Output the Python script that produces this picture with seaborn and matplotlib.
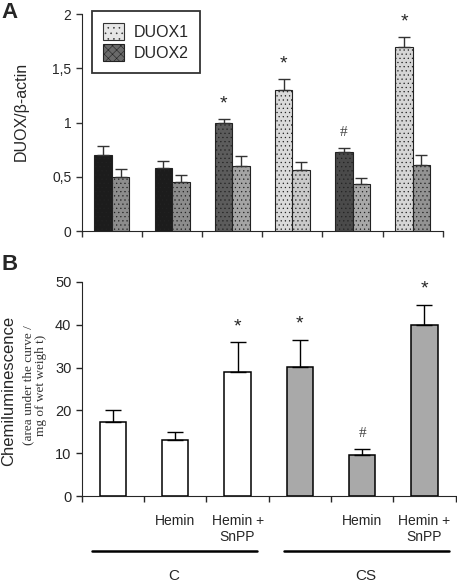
import matplotlib
matplotlib.use("Agg")
import matplotlib.pyplot as plt
import matplotlib.transforms as mtransforms
from matplotlib.patches import Patch
import numpy as np
import pandas as pd
import seaborn as sns

# panel A data
groups_a = ["1", "2", "3", "4", "5", "6"]
duox1 = [0.70, 0.58, 1.00, 1.30, 0.73, 1.70]
duox1_err = [0.08, 0.07, 0.03, 0.10, 0.04, 0.09]
duox2 = [0.50, 0.45, 0.60, 0.56, 0.43, 0.61]
duox2_err = [0.07, 0.07, 0.09, 0.08, 0.06, 0.09]
marks_a = ["", "", "*", "*", "#", "*"]  # above DUOX1 bars

# panel B data
conditions_b = ["C", "C Hemin", "C Hemin+SnPP", "CS", "CS Hemin", "CS Hemin+SnPP"]
tick_labels_b = ["", "Hemin", "Hemin +\nSnPP", "", "Hemin", "Hemin +\nSnPP"]
chemi = [17.3, 13.2, 29.0, 30.1, 9.5, 40.0]
chemi_err = [2.9, 1.7, 7.0, 6.4, 1.5, 4.7]
marks_b = ["", "", "*", "*", "#", "*"]

sns.set_style("ticks")
plt.rcParams["font.family"] = ["Liberation Sans", "DejaVu Sans"]
plt.rcParams["hatch.linewidth"] = 0.4

fig = plt.figure(figsize=(4.57, 5.85), dpi=100)
axA = fig.add_axes([0.179, 0.605, 0.790, 0.371])
axB = fig.add_axes([0.179, 0.152, 0.818, 0.366])

# ---- Panel A ----
df_a = pd.DataFrame({
    "group": groups_a * 2,
    "gene": ["DUOX1"] * 6 + ["DUOX2"] * 6,
    "value": duox1 + duox2,
})
sns.barplot(data=df_a, x="group", y="value", hue="gene", ax=axA, width=0.58,
            gap=0, edgecolor="#222222", linewidth=0.8, legend=False, errorbar=None)

c1 = ["#1c1c1c", "#1c1c1c", "#5c5c5c", "#dadada", "#4a4a4a", "#d6d6d6"]
c2 = ["#8c8c8c", "#8c8c8c", "#a4a4a4", "#cacaca", "#a8a8a8", "#939393"]
bars = axA.patches
for i, p in enumerate(bars[:6]):
    p.set_facecolor(c1[i])
    p.set_hatch("....")
for i, p in enumerate(bars[6:12]):
    p.set_facecolor(c2[i])
    p.set_hatch("....")

xs1 = [p.get_x() + p.get_width() / 2 for p in bars[:6]]
xs2 = [p.get_x() + p.get_width() / 2 for p in bars[6:12]]
axA.errorbar(xs1, duox1, yerr=[np.zeros(6), duox1_err], fmt="none",
             ecolor="#333333", elinewidth=1, capsize=4.5, capthick=1)
axA.errorbar(xs2, duox2, yerr=[np.zeros(6), duox2_err], fmt="none",
             ecolor="#333333", elinewidth=1, capsize=4.5, capthick=1)
for x, v, e, m in zip(xs1, duox1, duox1_err, marks_a):
    if m == "*":
        axA.text(x, v + e + 0.14, m, ha="center", va="center", fontsize=14)
    elif m == "#":
        axA.text(x, v + e + 0.14, m, ha="center", va="center", fontsize=11,
                 family="Liberation Serif", color="#444444")

axA.set_xlim(-0.5, 5.5)
axA.set_ylim(0, 2)
axA.set_xticks(np.arange(-0.5, 6, 1))
axA.set_xticklabels([])
axA.set_xlabel("")
axA.set_yticks([0, 0.5, 1, 1.5, 2])
axA.set_yticklabels(["0", "0,5", "1", "1,5", "2"])
axA.tick_params(labelsize=10, length=4, width=1, color="#333333")
axA.set_ylabel("DUOX/β-actin", fontsize=11.5)
axA.yaxis.set_label_coords(-0.147, 0.55)
sns.despine(ax=axA)

handles = [Patch(facecolor="#e6e6e6", edgecolor="#333333", hatch="...", linewidth=0.8),
           Patch(facecolor="#6a6a6a", edgecolor="#222222", hatch="xxxx", linewidth=0.8)]
leg = axA.legend(handles, ["DUOX1", "DUOX2"], loc="upper left",
                 bbox_to_anchor=(0.028, 1.012), fontsize=11.5, frameon=True,
                 fancybox=False, edgecolor="black", handlelength=1.3,
                 handleheight=1.3, borderpad=0.7, labelspacing=0.25,
                 handletextpad=0.6, borderaxespad=0)
leg.get_frame().set_linewidth(1.3)

# ---- Panel B ----
df_b = pd.DataFrame({"cond": conditions_b, "value": chemi})
sns.barplot(data=df_b, x="cond", y="value", hue="cond", ax=axB, width=0.42,
            palette=["white"] * 3 + ["#a9a9a9"] * 3, edgecolor="black",
            linewidth=1.1, legend=False, errorbar=None)
xb = [p.get_x() + p.get_width() / 2 for p in axB.patches]
axB.errorbar(xb, chemi, yerr=[np.zeros(6), chemi_err], fmt="none",
             ecolor="black", elinewidth=1, capsize=6, capthick=1)
for x, v, e, m in zip(xb, chemi, chemi_err, marks_b):
    if m == "*":
        axB.text(x, v + e + 3.6, m, ha="center", va="center", fontsize=14)
    elif m == "#":
        axB.text(x, v + e + 3.6, m, ha="center", va="center", fontsize=11,
                 family="Liberation Serif", color="#444444")

axB.set_xlim(-0.5, 5.5)
axB.set_ylim(0, 50)
axB.set_yticks([0, 10, 20, 30, 40, 50])
axB.set_xticks(np.arange(-0.5, 6, 1))
axB.set_xticklabels([])
axB.set_xticks(np.arange(6), minor=True)
axB.set_xticklabels(tick_labels_b, minor=True, fontsize=10)
axB.tick_params(axis="x", which="minor", length=0, pad=13)
axB.tick_params(which="major", labelsize=10.5, length=4, width=1)
axB.set_xlabel("")
axB.set_ylabel("Chemiluminescence", fontsize=12)
axB.yaxis.set_label_coords(-0.176, 0.49)
sns.despine(ax=axB)

fig.text(0.075, 0.342, "(area under the curve /\nmg of wet weigh t)", rotation=90,
         ha="center", va="center", fontsize=9.5, family="Liberation Serif",
         color="#333333", linespacing=1.1)

trans = mtransforms.blended_transform_factory(axB.transData, axB.transAxes)
axB.plot([-0.34, 2.31], [-0.257, -0.257], color="black", lw=1.8,
         transform=trans, clip_on=False)
axB.plot([2.74, 5.39], [-0.257, -0.257], color="black", lw=1.8,
         transform=trans, clip_on=False)
axB.text(0.98, -0.375, "C", transform=trans, ha="center", va="center", fontsize=11)
axB.text(4.06, -0.375, "CS", transform=trans, ha="center", va="center", fontsize=11)

fig.text(0.003, 0.997, "A", fontsize=16, fontweight="bold", va="top", ha="left")
fig.text(0.003, 0.566, "B", fontsize=16, fontweight="bold", va="top", ha="left")

fig.savefig("out.png", dpi=100)
